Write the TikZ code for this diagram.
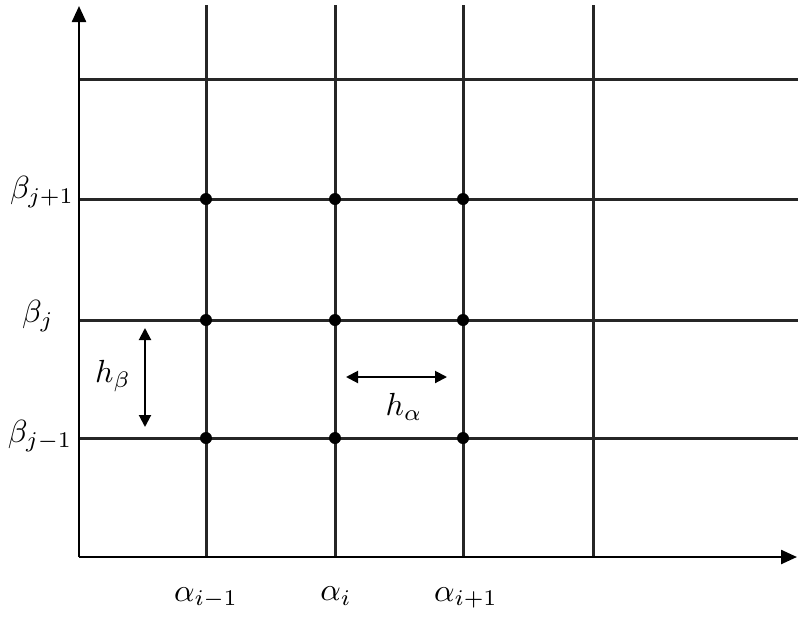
\documentclass[tikz,border=0pt]{standalone}
\usetikzlibrary{arrows.meta}
\begin{document}
\begin{tikzpicture}[x=1pt,y=-1pt,
  grid/.style={line width=3pt,black!85},
  axis/.style={line width=2.4pt,black,-{Triangle[length=16pt,width=14pt]}},
  dot/.style={circle,fill=black,inner sep=0pt,minimum size=12pt},
  lbl/.style={scale=3.2},
  dimarrow/.style={line width=2pt,{Triangle[length=12pt,width=12pt]}-{Triangle[length=12pt,width=12pt]}}]
\useasboundingbox (0,0) rectangle (798,619);
% axes
\coordinate (O) at (79,557);
\coordinate (Ytop) at (79,6);
\coordinate (Xend) at (797,557);
% grid endpoints
\foreach \n/\x in {a/206,b/335,c/463,d/593}{
  \coordinate (\n top) at (\x,5);
  \coordinate (\n bot) at (\x,557);
  \draw[grid] (\n top) -- (\n bot);
}
\foreach \n/\y in {p/79,q/199,r/320,s/438}{
  \coordinate (\n L) at (79,\y);
  \coordinate (\n R) at (798,\y);
  \draw[grid] (\n L) -- (\n R);
}
\draw[axis] (O) -- (Ytop);
\draw[axis] (O) -- (Xend);
% dots
\foreach \x [count=\i] in {206,335,463}{
  \foreach \y [count=\j] in {199,320,438}{
    \node[dot] (d\i\j) at (\x,\y) {};
  }
}
% labels
\node[lbl] (bj1) at (42,192) {$\beta_{j+1}$};
\node[lbl] (bj) at (38,316) {$\beta_{j}$};
\node[lbl] (bjm) at (40,436) {$\beta_{j-1}$};
\node[lbl] (ai1) at (206,598) {$\alpha_{i-1}$};
\node[lbl] (ai) at (336,596) {$\alpha_{i}$};
\node[lbl] (aip) at (466,598) {$\alpha_{i+1}$};
% h arrows
\coordinate (hbT) at (145,328);
\coordinate (hbB) at (145,427);
\draw[dimarrow] (hbT) -- (hbB);
\node[lbl] (hb) at (113,376) {$h_{\beta}$};
\coordinate (haL) at (346,377);
\coordinate (haR) at (447,377);
\draw[dimarrow] (haL) -- (haR);
\node[lbl] (ha) at (404,407) {$h_{\alpha}$};
\end{tikzpicture}
\end{document}
